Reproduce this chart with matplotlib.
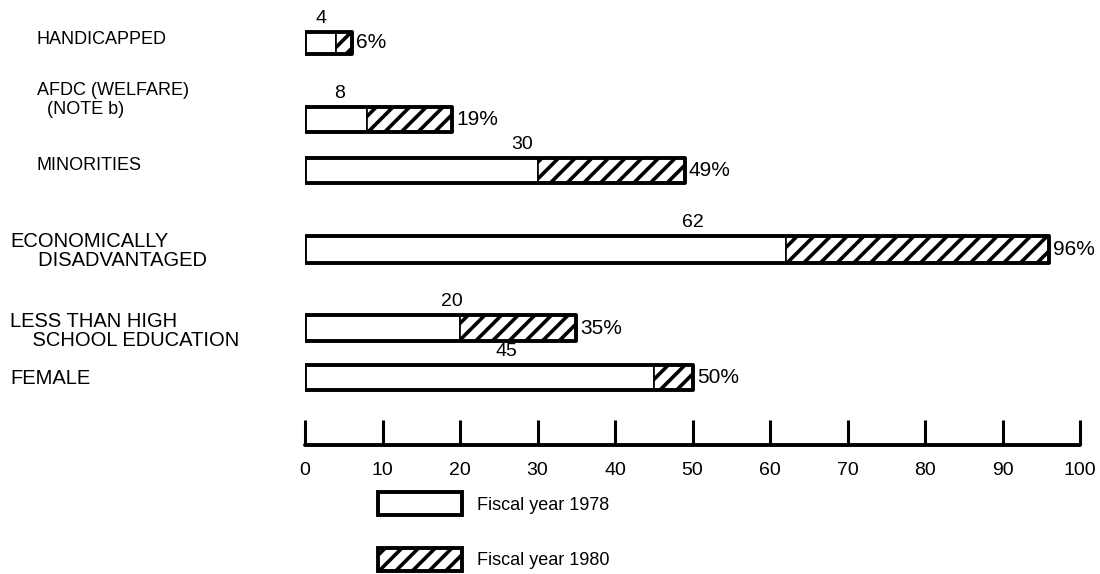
"""
Participation of target groups, fiscal year 1978 vs 1980
"""

import matplotlib
matplotlib.use("Agg")
import matplotlib.pyplot as plt
import matplotlib.patches as patches
import matplotlib.transforms as mtransforms

plt.rcParams["font.family"] = ["Liberation Sans", "DejaVu Sans"]
plt.rcParams["hatch.linewidth"] = 2.6
plt.rcParams["hatch.color"] = "black"

# data
categories = [
    "HANDICAPPED",
    "AFDC (WELFARE)\n  (NOTE b)",
    "MINORITIES",
    "ECONOMICALLY\n     DISADVANTAGED",
    "LESS THAN HIGH\n    SCHOOL EDUCATION",
    "FEMALE",
]
fy1978 = [4, 8, 30, 62, 20, 45]
fy1980 = [6, 19, 49, 96, 35, 50]
xticks = [0, 10, 20, 30, 40, 50, 60, 70, 80, 90, 100]
legend_labels = ["Fiscal year 1978", "Fiscal year 1980"]

# layout (y in pixels from the top of the figure)
row_y = [43, 119.5, 170.5, 249.5, 328, 377.5]
bar_h = [22, 25, 25, 27, 26, 25]
value_label_x = [2, 4.5, 28, 50, 19, 26]
cat_x = [37, 37, 37, 10, 10, 10]
cat_y = [40, 100, 166, 251, 331, 378]
cat_size = [13, 13, 13, 14.5, 14.5, 14.5]
cat_spacing = [1.1, 1.1, 1.1, 1.0, 1.0, 1.0]

W, H = 1100, 574
fig = plt.figure(figsize=(W / 100, H / 100), dpi=100)
ax = fig.add_axes([305 / W, (H - 445) / H, 775 / W, 445 / H])
ax.set_xlim(0, 100)
ax.set_ylim(445, 0)
ax.patch.set_visible(False)

edge_lw = 2.8
for i in range(len(categories)):
    y, h = row_y[i], bar_h[i]
    ax.barh(y, fy1978[i], height=h, left=0, color="white", edgecolor="black", linewidth=1.2)
    ax.barh(y, fy1980[i] - fy1978[i], height=h, left=fy1978[i], color="white",
            edgecolor="black", linewidth=1.2, hatch="//")
    ax.barh(y, fy1980[i], height=h, left=0, fill=False, edgecolor="black",
            linewidth=edge_lw, joinstyle="round")

    # 1978 value above the bar
    ax.annotate(str(fy1978[i]), (value_label_x[i], y - h / 2), xytext=(0, 10),
                textcoords="offset points", ha="center", va="center", fontsize=14)
    # 1980 percentage to the right
    ax.annotate(f"{fy1980[i]}%", (fy1980[i], y), xytext=(3, 0),
                textcoords="offset points", ha="left", va="center", fontsize=15)

# category labels on the left
trans = mtransforms.blended_transform_factory(fig.transFigure, ax.transData)
for i, cat in enumerate(categories):
    fig.text(cat_x[i] / W, cat_y[i], cat, transform=trans, ha="left", va="center",
             fontsize=cat_size[i], linespacing=cat_spacing[i])

# axis
for side in ["left", "right", "top"]:
    ax.spines[side].set_visible(False)
ax.spines["bottom"].set_linewidth(edge_lw)
ax.spines["bottom"].set_bounds(0, 100)
ax.spines["bottom"].set_capstyle("round")
ax.set_xticks(xticks)
ax.set_yticks([])
ax.tick_params(axis="x", direction="in", length=18, width=2.2, pad=12, labelsize=14)

# legend
handles = [
    patches.Patch(facecolor="white", edgecolor="black", linewidth=edge_lw),
    patches.Patch(facecolor="white", edgecolor="black", linewidth=edge_lw, hatch="//"),
]
fig.legend(handles, legend_labels, loc="upper left", bbox_to_anchor=(378 / W, 1 - 492 / H),
           bbox_transform=fig.transFigure, frameon=False, fontsize=13, borderpad=0,
           borderaxespad=0, handlelength=4.65, handleheight=1.6, labelspacing=1.8,
           handletextpad=0.83)

fig.savefig("out.png", dpi=100)
